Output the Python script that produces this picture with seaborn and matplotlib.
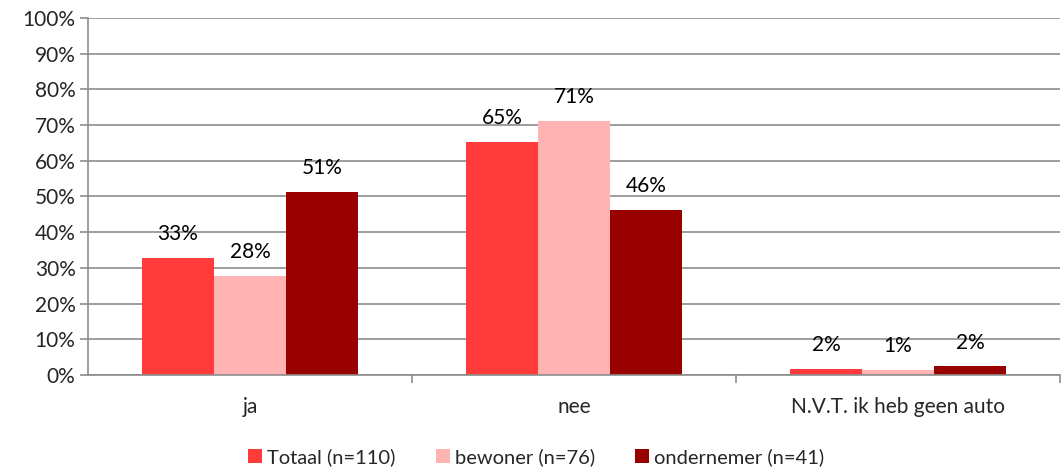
import pandas as pd
import seaborn as sns
import matplotlib.pyplot as plt
from matplotlib.ticker import FixedLocator, PercentFormatter

categories = ["ja", "nee", "N.V.T. ik heb geen auto"]
groups = ["Totaal (n=110)", "bewoner (n=76)", "ondernemer (n=41)"]
totaal = [32.7, 65.4, 1.8]
bewoner = [27.8, 71.1, 1.3]
ondernemer = [51.3, 46.3, 2.4]
colors = ["#FF3B3B", "#FFB3B3", "#990000"]

rows = []
for grp, vals in zip(groups, [totaal, bewoner, ondernemer]):
    for cat, v in zip(categories, vals):
        rows.append({"cat": cat, "group": grp, "value": v})
df = pd.DataFrame(rows)

sns.set_style("white")
plt.rcParams["font.family"] = ["Lato", "DejaVu Sans"]

fig = plt.figure(figsize=(10.62, 4.73), dpi=100)
ax = fig.add_axes([0.0829, 0.2072, 0.9151, 0.7548])

sns.barplot(data=df, x="cat", y="value", hue="group", palette=colors,
            width=0.667, saturation=1, linewidth=0, ax=ax, legend=True)

for cont in ax.containers:
    ax.bar_label(cont, labels=[f"{round(b.get_height()):.0f}%" for b in cont],
                 padding=10, fontsize=15, color="black")

ax.set_ylim(0, 100)
ax.set_xlim(-0.5, 2.5)
ax.set_yticks(range(0, 101, 10))
ax.yaxis.set_major_formatter(PercentFormatter(decimals=0))
ax.grid(axis="y", color="#8c8c8c", linewidth=1.2)
ax.set_axisbelow(True)
ax.set_xlabel("")
ax.set_ylabel("")

for s in ["top", "right"]:
    ax.spines[s].set_visible(False)
for s in ["left", "bottom"]:
    ax.spines[s].set_color("#8c8c8c")
    ax.spines[s].set_linewidth(1.2)

ax.xaxis.set_minor_locator(FixedLocator([0.5, 1.5, 2.5]))
ax.tick_params(axis="x", which="major", length=0, pad=16, labelsize=15)
ax.tick_params(axis="x", which="minor", length=6, width=1.2, color="#8c8c8c", direction="out", bottom=True)
ax.tick_params(axis="y", which="major", length=6, width=1.2, color="#8c8c8c", direction="out", left=True, labelsize=15, pad=3)

ax.legend(loc="center", bbox_to_anchor=(0.505, 0.034), bbox_transform=fig.transFigure,
          ncol=3, frameon=False, fontsize=14.5, handlelength=0.7, handleheight=0.7,
          handletextpad=0.25, columnspacing=2.0)

fig.savefig("out.png", dpi=100)
